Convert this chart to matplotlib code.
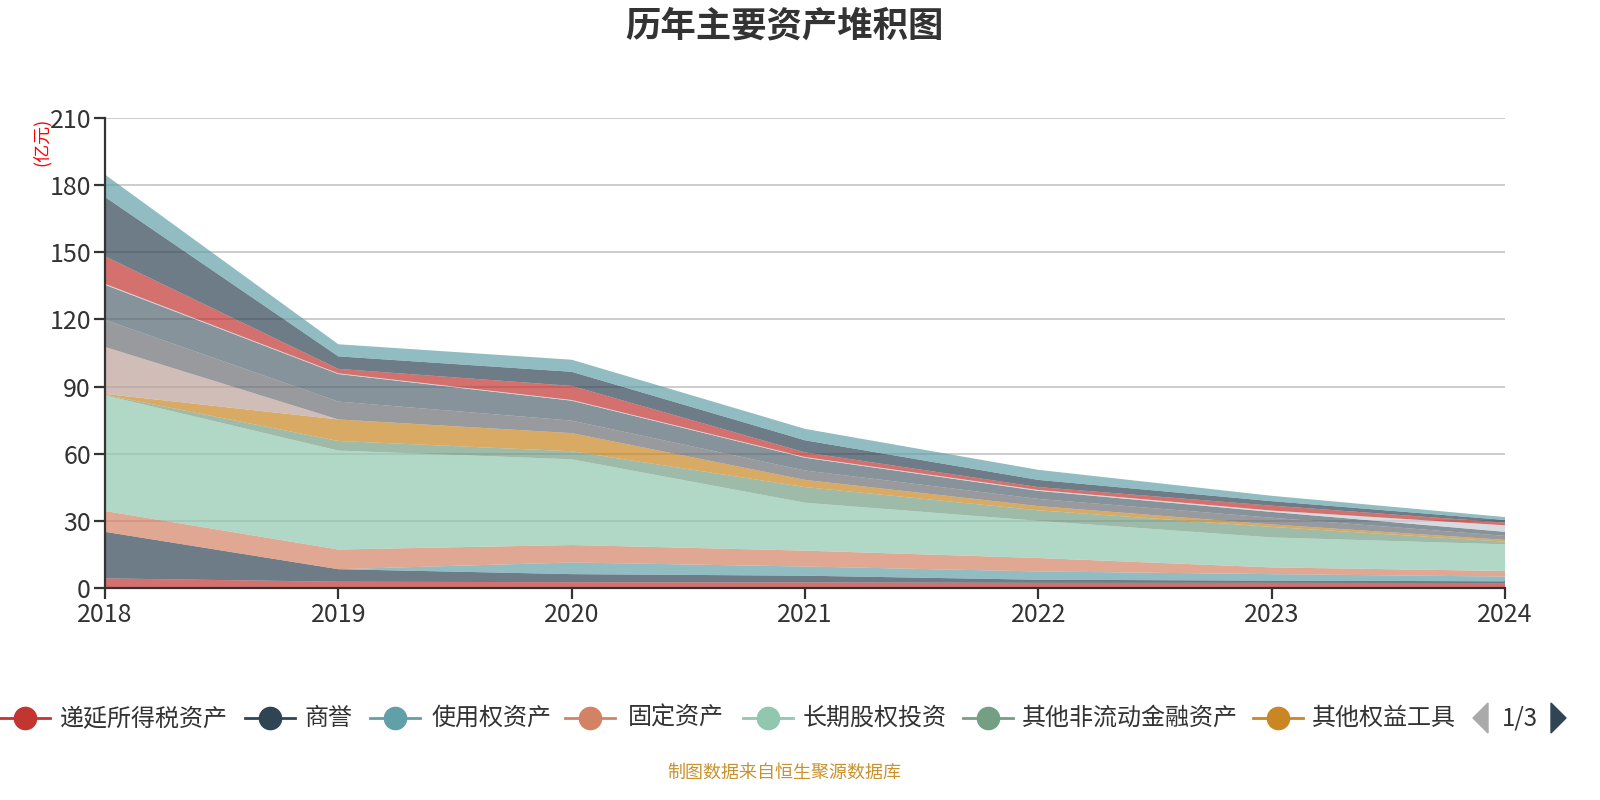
import matplotlib
matplotlib.use("Agg")
import matplotlib.pyplot as plt
import numpy as np
from matplotlib.lines import Line2D
from matplotlib.patches import Polygon

plt.rcParams['font.family'] = ['Noto Sans CJK SC', 'DejaVu Sans']

years = ['2018', '2019', '2020', '2021', '2022', '2023', '2024']

# series, bottom to top (亿元)
names = ['递延所得税资产', '商誉', '使用权资产', '固定资产', '长期股权投资',
         '其他非流动金融资产', '其他权益工具', '可供出售金融资产', '存货',
         '应收账款', '合同资产', '预付款项', '交易性金融资产', '货币资金']
deferred_tax = [4.3, 2.8, 2.6, 2.5, 2.3, 2.3, 2.2]
goodwill = [20.8, 5.6, 3.6, 3.0, 1.4, 1.0, 0.8]
right_of_use = [0.0, 0.0, 5.2, 4.1, 3.7, 2.9, 2.1]
fixed_assets = [9.3, 8.8, 7.8, 7.1, 6.0, 3.0, 2.5]
lt_equity_inv = [51.7, 44.2, 38.3, 21.4, 16.6, 13.4, 11.9]
other_ncfa = [0.2, 4.3, 3.6, 7.0, 4.7, 4.7, 1.2]
other_equity = [0.4, 9.6, 8.1, 3.2, 1.9, 1.1, 0.8]
afs_assets = [21.0, 0.0, 0.0, 0.0, 0.0, 0.0, 0.0]
inventory = [12.1, 8.0, 5.6, 4.2, 3.2, 3.0, 1.8]
receivables = [15.7, 12.3, 8.9, 5.7, 3.6, 2.6, 1.8]
contract_assets = [0.4, 0.3, 0.3, 0.3, 0.4, 0.6, 2.9]
prepayments = [12.3, 2.0, 6.3, 2.1, 1.3, 2.2, 1.2]
trading_fa = [26.5, 5.6, 6.3, 5.4, 3.2, 2.0, 1.2]
cash = [10.0, 5.4, 5.4, 5.1, 4.5, 2.4, 1.3]

series = [deferred_tax, goodwill, right_of_use, fixed_assets, lt_equity_inv,
          other_ncfa, other_equity, afs_assets, inventory, receivables,
          contract_assets, prepayments, trading_fa, cash]

palette = ['#c23531', '#2f4554', '#61a0a8', '#d48265', '#91c7ae', '#749f83',
           '#ca8622', '#bda29a', '#6e7074', '#546570', '#c4ccd3']
colors = [palette[i % len(palette)] for i in range(len(series))]

fig = plt.figure(figsize=(16, 8), dpi=100)
ax = fig.add_axes([105 / 1600, 1 - 588 / 800, 1400 / 1600, 470 / 800])

x = np.arange(len(years))
ax.stackplot(x, *[np.array(s) for s in series], colors=colors, alpha=0.7,
             linewidth=0)

ax.set_xlim(0, len(years) - 1)
ax.set_ylim(0, 210)
ax.set_yticks(np.arange(0, 211, 30))
ax.set_xticks(x)
ax.set_xticklabels(years)
ax.yaxis.grid(True, color='#c8c8c8', linewidth=1.3)
ax.set_axisbelow(True)
for s in ['top', 'right']:
    ax.spines[s].set_visible(False)
for s in ['left', 'bottom']:
    ax.spines[s].set_color('#333333')
    ax.spines[s].set_linewidth(1.6)
ax.tick_params(axis='both', colors='#333333', labelsize=18, width=1.6,
               length=8, pad=2)
ax.tick_params(axis='x', pad=2)

fig.text(42 / 1600, 1 - 142 / 800, '(亿元)', color='red', fontsize=13,
         rotation=90, ha='center', va='center')

fig.text(0.49, 1 - 26 / 800, '历年主要资产堆积图', fontsize=25.5,
         fontweight='bold', color='#333333', ha='center', va='center')

# legend, page 1 of 3
leg_y = 1 - 718 / 800
leg_items = [(25, 60), (270, 305), (395, 432), (590, 628), (768, 803),
             (988, 1022), (1278, 1312)]
for (mx, tx), name, c in zip(leg_items, names[:7], colors[:7]):
    fig.add_artist(Line2D([(mx - 25) / 1600, (mx + 25) / 1600], [leg_y, leg_y],
                          color=c, linewidth=2, transform=fig.transFigure))
    fig.add_artist(Line2D([mx / 1600], [leg_y], marker='o', markersize=16,
                          color=c, transform=fig.transFigure))
    fig.text(tx / 1600, leg_y, name, fontsize=17.3, color='#333333',
             ha='left', va='center')

fig.add_artist(Polygon([[1488 / 1600, leg_y + 15 / 800],
                        [1488 / 1600, leg_y - 15 / 800],
                        [1473 / 1600, leg_y]], closed=True,
                       color='#aaaaaa', transform=fig.transFigure))
fig.text(1520 / 1600, leg_y, '1/3', fontsize=17.3, color='#333333',
         ha='center', va='center')
fig.add_artist(Polygon([[1551 / 1600, leg_y + 15 / 800],
                        [1551 / 1600, leg_y - 15 / 800],
                        [1566 / 1600, leg_y]], closed=True,
                       color='#2f4554', transform=fig.transFigure))

fig.text(0.49, 1 - 773 / 800, '制图数据来自恒生聚源数据库', fontsize=13,
         color='#c9922c', ha='center', va='center')

fig.savefig('out.png', dpi=100)
